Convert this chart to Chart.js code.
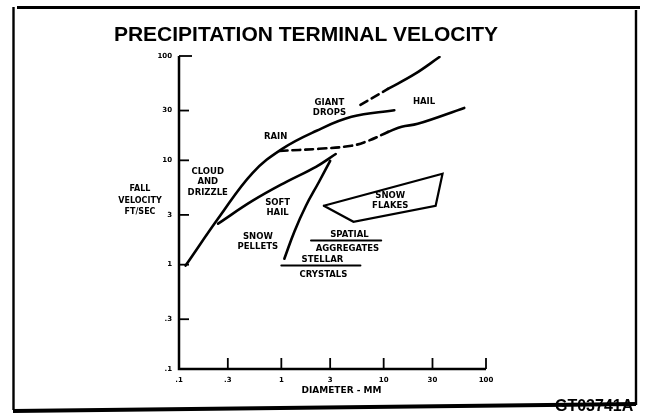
<!DOCTYPE html>
<html>
<head>
<meta charset="utf-8">
<title>Precipitation Terminal Velocity</title>
<script src="https://cdn.jsdelivr.net/npm/chart.js@4"></script>
<style>
  html, body { margin: 0; padding: 0; background: #fff; }
  canvas { display: block; }
</style>
</head>
<body>
<canvas id="chart" width="646" height="416"></canvas>
<script>
// Tick values and labels (log-log, both axes)
const xTickValues = [0.1, 0.3, 1, 3, 10, 30, 100];
const xTickLabels = ['.1', '.3', '1', '3', '10', '30', '100'];
const yTickValues = [0.1, 0.3, 1, 3, 10, 30, 100];
const yTickLabels = ['.1', '.3', '1', '3', '10', '30', '100'];

// Cloud & drizzle -> rain -> giant drops (diameter mm, velocity ft/sec)
const rainX = [0.116, 0.252, 0.525, 1.02, 2.18, 4.85, 12.7];
const rainY = [0.98, 2.94, 7.6, 12.9, 19.1, 26.1, 30.2];

// Hail, lower branch (dashed then solid)
const hailLowDashX = [0.956, 2.33, 4.85, 7.08, 11.0];
const hailLowDashY = [12.3, 12.9, 13.8, 15.4, 18.7];
const hailLowX = [11.0, 15.0, 21.5, 61.3];
const hailLowY = [18.7, 21.0, 22.4, 31.8];

// Hail, upper branch (dashed then solid)
const hailHighDashX = [5.93, 11.0];
const hailHighDashY = [34.0, 48.3];
const hailHighX = [11.0, 20.2, 35.1];
const hailHighY = [48.3, 67.3, 97.8];

// Soft hail
const softHailX = [0.241, 0.525, 1.12, 2.18, 3.4];
const softHailY = [2.47, 4.10, 6.22, 8.67, 11.5];

// Snow pellets
const pelletsX = [1.07, 1.34, 1.74, 2.33, 3.0];
const pelletsY = [1.14, 2.07, 3.67, 6.2, 9.9];

// Snow flakes region (closed outline)
const flakesX = [2.60, 5.07, 32.2, 37.6, 2.60];
const flakesY = [3.67, 2.58, 3.67, 7.43, 3.67];

// Spatial aggregates and stellar crystals ranges
const spatialX = [1.95, 9.46];
const spatialY = [1.70, 1.70];
const stellarX = [1.0, 5.93];
const stellarY = [0.98, 0.98];

// Region labels and their anchors (data coordinates)
const labelTexts = [
  ['CLOUD', 'AND', 'DRIZZLE'],
  ['RAIN'],
  ['SOFT', 'HAIL'],
  ['SNOW', 'PELLETS'],
  ['GIANT', 'DROPS'],
  ['HAIL'],
  ['SNOW', 'FLAKES'],
  ['SPATIAL'],
  ['AGGREGATES'],
  ['STELLAR'],
  ['CRYSTALS']
];
const labelX = [0.191, 0.88, 0.92, 0.59, 2.95, 24.8, 11.6, 4.63, 4.43, 2.52, 2.58];
const labelY = [6.2, 16.7, 3.5, 1.65, 31.8, 36.3, 4.08, 1.93, 1.41, 1.11, 0.80];

function toPoints(xs, ys) {
  return xs.map((x, i) => ({ x: x, y: ys[i] }));
}

function series(xs, ys, opts) {
  opts = opts || {};
  return {
    data: toPoints(xs, ys),
    showLine: true,
    borderColor: '#000',
    borderWidth: opts.width || 2.6,
    borderDash: opts.dashed ? [8, 5] : [],
    borderCapStyle: 'round',
    pointRadius: 0,
    tension: opts.straight ? 0 : 0.4,
    fill: false
  };
}

const smallFont = 'bold 8.5px "DejaVu Sans", sans-serif';

// Frame, title, axes and labels
const paperPlugin = {
  id: 'paper',
  beforeDraw(chart) {
    const ctx = chart.ctx;
    ctx.save();
    ctx.fillStyle = '#fff';
    ctx.fillRect(0, 0, chart.width, chart.height);
    ctx.fillStyle = '#000';
    ctx.font = 'bold 21px "Liberation Sans", Arial, sans-serif';
    ctx.textAlign = 'center';
    ctx.textBaseline = 'alphabetic';
    ctx.fillText('PRECIPITATION TERMINAL VELOCITY', 306, 41);
    ctx.restore();
  },
  afterDatasetsDraw(chart) {
    const ctx = chart.ctx;
    const area = chart.chartArea;
    const xs = chart.scales.x;
    const ys = chart.scales.y;
    ctx.save();
    ctx.strokeStyle = '#000';
    ctx.fillStyle = '#000';

    // axis lines
    ctx.lineWidth = 2.5;
    ctx.beginPath();
    ctx.moveTo(area.left, area.top);
    ctx.lineTo(area.left, area.bottom);
    ctx.lineTo(area.right, area.bottom);
    ctx.stroke();

    // y ticks (pointing inward) and labels
    ctx.lineWidth = 1.8;
    ctx.font = 'bold 7px "DejaVu Sans", sans-serif';
    ctx.textAlign = 'right';
    ctx.textBaseline = 'middle';
    yTickValues.forEach((v, i) => {
      const py = ys.getPixelForValue(v);
      ctx.beginPath();
      ctx.moveTo(area.left, py);
      ctx.lineTo(area.left + (i === yTickValues.length - 1 ? 13 : 10), py);
      ctx.stroke();
      ctx.fillText(yTickLabels[i], area.left - 7, py);
    });

    // x ticks (pointing up) and labels
    ctx.textAlign = 'center';
    xTickValues.forEach((v, i) => {
      const px = xs.getPixelForValue(v);
      ctx.beginPath();
      ctx.moveTo(px, area.bottom);
      ctx.lineTo(px, area.bottom - 11);
      ctx.stroke();
      ctx.fillText(xTickLabels[i], px, area.bottom + 11);
    });

    // axis titles
    ctx.font = 'bold 9px "DejaVu Sans", sans-serif';
    ctx.fillText('DIAMETER - MM', xs.getPixelForValue(3.87), area.bottom + 22);
    ctx.font = 'bold 8px "DejaVu Sans", sans-serif';
    const vy = ys.getPixelForValue(4.1);
    ['FALL', 'VELOCITY', 'FT/SEC'].forEach((t, i) => {
      ctx.fillText(t, area.left - 39, vy + (i - 1) * 11.5);
    });

    // region labels
    ctx.font = smallFont;
    labelTexts.forEach((lines, k) => {
      const cx = xs.getPixelForValue(labelX[k]);
      const cy = ys.getPixelForValue(labelY[k]);
      lines.forEach((t, i) => {
        ctx.fillText(t, cx, cy + (i - (lines.length - 1) / 2) * 10.5);
      });
    });
    ctx.restore();
  },
  afterDraw(chart) {
    const ctx = chart.ctx;
    ctx.save();
    ctx.fillStyle = '#000';
    ctx.strokeStyle = '#000';
    ctx.font = 'bold 16px "Liberation Sans", Arial, sans-serif';
    ctx.textAlign = 'left';
    ctx.textBaseline = 'alphabetic';
    ctx.fillText('GT03741A', 555, 411);

    ctx.lineCap = 'butt';
    ctx.lineWidth = 3;
    ctx.beginPath();
    ctx.moveTo(17, 7.5);
    ctx.lineTo(640, 7.5);
    ctx.stroke();
    ctx.lineWidth = 2.4;
    ctx.beginPath();
    ctx.moveTo(13.5, 7);
    ctx.lineTo(13.5, 410);
    ctx.stroke();
    ctx.beginPath();
    ctx.moveTo(636, 10);
    ctx.lineTo(636, 405);
    ctx.stroke();
    ctx.lineWidth = 4;
    ctx.beginPath();
    ctx.moveTo(13, 411);
    ctx.lineTo(636, 404);
    ctx.stroke();
    ctx.restore();
  }
};

new Chart(document.getElementById('chart'), {
  type: 'scatter',
  data: {
    datasets: [
      series(rainX, rainY),
      series(hailLowDashX, hailLowDashY, { dashed: true }),
      series(hailLowX, hailLowY),
      series(hailHighDashX, hailHighDashY, { dashed: true, straight: true }),
      series(hailHighX, hailHighY),
      series(softHailX, softHailY),
      series(pelletsX, pelletsY),
      series(flakesX, flakesY, { straight: true, width: 2.2 }),
      series(spatialX, spatialY, { straight: true, width: 2 }),
      series(stellarX, stellarY, { straight: true, width: 2 })
    ]
  },
  options: {
    responsive: false,
    devicePixelRatio: 1,
    animation: false,
    layout: { padding: { left: 179, right: 160, top: 56, bottom: 47 } },
    plugins: { legend: { display: false }, tooltip: { enabled: false } },
    scales: {
      x: { type: 'logarithmic', min: 0.1, max: 100, display: false },
      y: { type: 'logarithmic', min: 0.1, max: 100, display: false }
    }
  },
  plugins: [paperPlugin]
});
</script>
</body>
</html>
